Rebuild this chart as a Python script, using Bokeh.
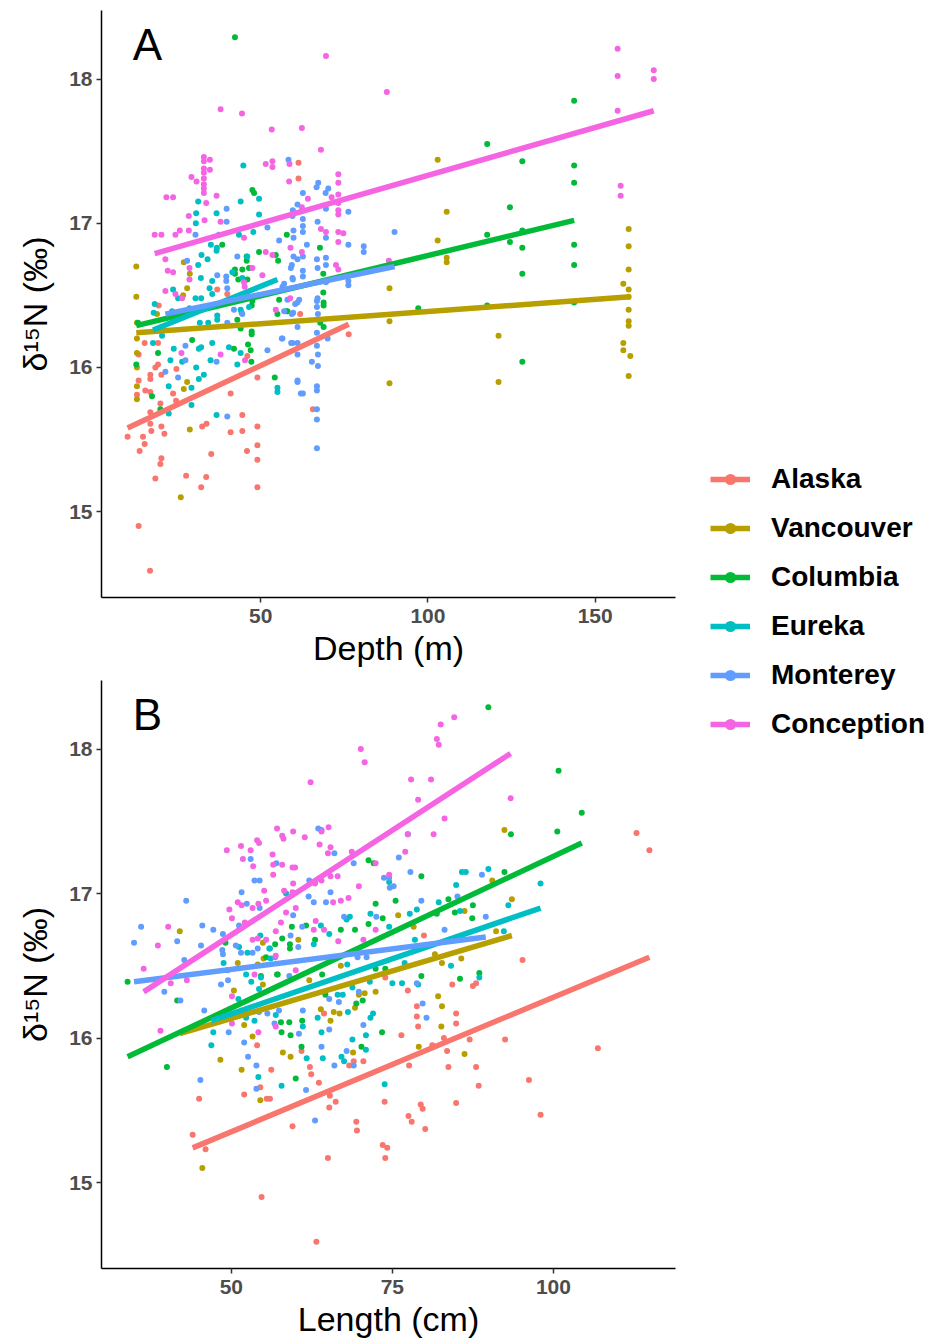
from bokeh.plotting import figure
from bokeh.layouts import row, column
from bokeh.models import (Range1d, FixedTicker, Legend, LegendItem, Label,
                          ColumnDataSource)
from bokeh.embed import file_html
from bokeh.resources import INLINE

REGIONS = ["Alaska", "Vancouver", "Columbia", "Eureka", "Monterey", "Conception"]
COLORS = ["#F8766D", "#B79F00", "#00BA38", "#00BFC4", "#619CFF", "#F564E3"]

Y_TICKS = [15, 16, 17, 18]
DEPTH_TICKS = [50, 100, 150]
LENGTH_TICKS = [50, 75, 100]

# ---- Panel A: capture depth (m) vs d15N, (depth, d15N) per fish ----
A_ALASKA = [(10.2, 15.52), (13.8, 15.42), (13.5, 14.90), (16.9, 14.59), (15.3, 16.17), (13.5, 16.09),
            (13.5, 15.91), (13.0, 15.81), (17.0, 15.95), (17.0, 15.92), (15.5, 15.84), (17.0, 15.83),
            (18.5, 16.00), (19.3, 16.02), (19.3, 16.17), (20.3, 15.95), (20.0, 15.75), (17.0, 15.69),
            (17.0, 15.61), (17.3, 15.56), (14.8, 15.52), (15.3, 15.47), (20.3, 15.59), (21.2, 15.54),
            (20.3, 15.37), (20.0, 15.33), (18.5, 15.23), (24.8, 15.99), (23.8, 15.82), (24.7, 15.77),
            (27.7, 15.25), (32.2, 15.17), (33.7, 15.24), (32.5, 15.59), (33.8, 15.61), (35.2, 15.40),
            (41.0, 15.82), (41.0, 15.55), (44.5, 15.67), (44.5, 15.56), (45.9, 15.42), (49.0, 15.93),
            (49.0, 15.59), (49.0, 15.46), (49.0, 15.36), (49.0, 15.17), (46.0, 16.08), (37.0, 16.54),
            (40.0, 16.51), (19.5, 16.43), (61.3, 17.42), (61.3, 17.31), (61.8, 16.37), (76.3, 16.23),
            (65.6, 15.71)]
A_VANCOUVER = [(12.8, 16.70), (12.8, 16.49), (13.0, 16.31), (13.0, 16.20), (13.0, 16.10), (13.0, 16.00),
               (13.0, 15.87), (13.0, 15.78), (28.0, 16.55), (26.8, 16.50), (27.0, 15.85), (28.0, 15.90),
               (28.8, 15.57), (26.1, 15.10), (19.0, 16.37), (27.0, 16.73), (28.8, 16.65), (102.9, 17.44),
               (105.6, 17.08), (102.9, 16.88), (105.6, 16.76), (105.6, 16.73), (88.5, 16.55), (88.5, 16.32),
               (88.5, 15.89), (121.1, 16.22), (121.1, 15.90), (160.0, 16.96), (160.0, 16.84), (160.0, 16.68),
               (158.4, 16.58), (160.0, 16.54), (160.0, 16.49), (160.0, 16.40), (160.0, 16.32), (160.0, 16.29),
               (158.4, 16.17), (158.4, 16.12), (160.5, 16.08), (160.0, 15.94)]
A_COLUMBIA = [(42.3, 18.29), (47.5, 17.23), (48.0, 17.21), (38.5, 16.85), (49.5, 16.80), (45.8, 16.77),
              (45.8, 16.74), (54.5, 16.78), (55.2, 16.74), (57.8, 16.92), (42.3, 16.68), (42.3, 16.65),
              (44.5, 16.68), (46.5, 16.69), (43.3, 16.61), (46.0, 16.61), (67.7, 16.83), (68.7, 16.65),
              (68.7, 16.52), (68.8, 16.45), (68.8, 16.43), (57.6, 16.39), (67.8, 16.31), (68.8, 16.28),
              (97.1, 16.41), (13.3, 16.31), (12.8, 16.02), (17.5, 15.80), (19.3, 16.10), (29.5, 16.19),
              (20.0, 15.71), (42.0, 16.13), (43.0, 16.33), (44.0, 16.27), (46.2, 16.16), (47.3, 16.25),
              (47.3, 16.23), (47.0, 16.12), (47.2, 16.04), (47.5, 16.46), (47.3, 16.43), (54.2, 15.93),
              (55.0, 16.37), (55.5, 16.47), (58.0, 16.39), (117.7, 17.55), (128.2, 17.43), (143.7, 17.85),
              (143.7, 17.40), (143.7, 17.28), (124.5, 17.11), (117.7, 16.92), (124.5, 16.87), (128.2, 16.95),
              (128.2, 16.83), (128.2, 16.65), (143.7, 16.85), (143.7, 16.71), (128.2, 16.04), (143.7, 16.45),
              (117.7, 16.43)]
A_EUREKA = [(44.8, 17.40), (31.3, 17.15), (30.7, 17.07), (30.6, 17.00), (44.0, 17.15), (49.5, 17.17),
            (49.5, 17.06), (36.8, 17.07), (47.8, 16.94), (43.5, 16.92), (35.1, 16.85), (36.9, 16.83),
            (36.8, 16.81), (32.3, 16.78), (34.1, 16.75), (31.3, 16.71), (32.1, 16.62), (35.5, 16.60),
            (34.7, 16.55), (23.8, 16.54), (25.3, 16.48), (32.2, 16.48), (46.0, 16.77), (44.5, 16.62),
            (41.5, 16.66), (18.3, 16.44), (18.0, 16.38), (30.5, 16.48), (35.5, 16.51), (28.7, 16.41),
            (32.5, 16.42), (37.0, 16.36), (37.0, 16.33), (31.8, 16.31), (34.3, 16.31), (23.5, 16.39),
            (20.5, 16.22), (17.8, 16.17), (24.0, 16.13), (31.5, 16.13), (32.2, 16.14), (23.0, 16.05),
            (26.5, 16.04), (30.7, 16.00), (33.0, 15.95), (31.5, 15.92), (22.5, 15.87), (29.3, 15.86),
            (35.0, 16.05), (35.5, 16.17), (40.5, 16.14), (43.0, 16.02), (44.0, 16.10), (44.0, 16.40),
            (44.3, 16.38), (46.5, 16.42), (29.3, 15.74), (22.5, 15.68), (36.8, 15.67), (55.0, 15.86),
            (55.0, 15.83)]
A_MONTEREY = [(39.8, 17.10), (39.8, 17.01), (30.5, 16.92), (37.5, 16.92), (52.0, 16.97), (58.3, 17.44),
              (59.8, 16.95), (59.8, 16.90), (59.5, 17.05), (55.5, 16.88), (43.0, 16.77), (37.0, 16.64),
              (39.7, 16.63), (39.7, 16.60), (40.0, 16.55), (59.8, 16.77), (61.0, 16.75), (59.0, 16.69),
              (59.5, 16.62), (56.5, 16.56), (28.0, 16.74), (67.2, 17.28), (66.7, 17.25), (70.2, 17.24),
              (69.4, 17.21), (62.6, 17.21), (61.0, 17.13), (59.6, 17.09), (69.5, 17.10), (62.6, 17.03),
              (62.6, 16.98), (62.6, 16.94), (67.0, 17.01), (69.5, 16.90), (76.2, 17.08), (90.0, 16.94),
              (80.8, 16.84), (80.8, 16.80), (76.2, 16.85), (63.8, 16.85), (59.3, 16.71), (62.6, 16.77),
              (66.8, 16.75), (69.5, 16.76), (69.5, 16.71), (62.6, 16.67), (62.6, 16.63), (67.0, 16.69),
              (59.6, 16.61), (76.2, 16.60), (76.2, 16.57), (67.0, 16.48), (69.5, 16.59), (57.0, 16.58),
              (60.3, 16.44), (61.0, 16.45), (59.3, 16.37), (66.8, 16.46), (66.8, 16.42), (67.1, 16.37),
              (61.0, 16.28), (66.8, 16.24), (56.3, 16.20), (59.1, 16.17), (61.0, 16.17), (70.0, 16.20),
              (66.8, 16.15), (67.1, 16.09), (61.0, 16.09), (65.3, 16.04), (67.1, 16.01), (61.0, 15.90),
              (62.6, 15.82), (66.8, 15.87), (66.8, 15.84), (66.8, 15.71), (66.8, 15.64), (66.8, 15.44),
              (21.5, 15.97), (25.3, 15.93), (27.5, 16.15), (27.5, 16.05), (36.8, 16.04), (40.0, 15.66),
              (52.0, 16.12), (56.5, 16.20), (59.5, 16.17), (61.0, 15.91), (62.0, 15.82), (40.0, 16.31),
              (42.0, 16.40), (44.5, 16.37), (58.0, 16.47), (57.0, 16.39), (59.7, 16.38), (61.5, 16.47)]
A_CONCEPTION = [(156.7, 18.21), (156.7, 18.02), (156.7, 17.78), (167.5, 18.06), (167.5, 18.00), (157.6, 17.26),
                (157.6, 17.19), (69.5, 18.16), (87.7, 17.91), (62.3, 17.66), (68.0, 17.51), (58.6, 17.41),
                (58.5, 17.29), (73.2, 17.34), (73.2, 17.28), (73.2, 17.20), (71.2, 17.18), (64.1, 17.17),
                (62.3, 17.11), (73.2, 17.14), (73.2, 17.09), (73.2, 17.06), (69.5, 16.94), (68.0, 16.96),
                (73.2, 16.94), (74.7, 16.93), (73.2, 16.87), (58.9, 16.83), (62.3, 16.80), (72.5, 16.71),
                (73.2, 16.68), (88.3, 16.74), (58.8, 16.48), (38.0, 17.79), (44.4, 17.76), (53.3, 17.65),
                (33.0, 17.46), (33.0, 17.43), (33.0, 17.38), (33.0, 17.35), (33.0, 17.31), (33.0, 17.27),
                (33.0, 17.24), (33.0, 17.21), (34.8, 17.44), (34.8, 17.37), (29.3, 17.32), (30.8, 17.29),
                (51.5, 17.41), (53.5, 17.43), (53.5, 17.39), (21.8, 17.18), (23.8, 17.18), (36.8, 17.19),
                (33.7, 17.14), (28.5, 17.05), (33.2, 17.02), (38.0, 17.01), (18.3, 16.92), (20.3, 16.92),
                (24.5, 16.92), (25.8, 16.95), (28.5, 16.95), (45.0, 16.90), (51.5, 16.80), (53.5, 16.78),
                (21.5, 16.75), (22.2, 16.67), (23.8, 16.66), (28.7, 16.69), (28.7, 16.61), (47.5, 16.69),
                (50.5, 16.64), (21.5, 16.53), (24.5, 16.51), (26.5, 16.48), (45.2, 16.56), (26.3, 16.10),
                (38.0, 16.09), (45.3, 16.05), (54.5, 16.40), (45.0, 16.59)]

# ---- Panel B: fork length (cm) vs d15N, (length, d15N) per fish ----
B_ALASKA = [(45.0, 15.58), (44.0, 15.33), (46.0, 15.23), (52.0, 15.61), (54.0, 15.95), (54.5, 15.66),
            (55.5, 15.58), (56.0, 15.58), (56.2, 15.78), (54.7, 14.90), (79.9, 16.71), (60.9, 15.91),
            (62.2, 15.80), (62.4, 15.75), (63.6, 15.69), (59.5, 15.39), (65.3, 15.60), (66.2, 15.56),
            (65.2, 15.52), (65.0, 15.17), (63.2, 14.59), (68.3, 15.81), (69.0, 15.84), (70.5, 15.84),
            (69.4, 15.42), (69.5, 15.36), (73.8, 15.56), (73.5, 15.26), (74.2, 15.24), (73.9, 15.17),
            (76.4, 16.02), (77.5, 15.46), (78.0, 15.42), (77.6, 15.81), (79.4, 15.54), (79.7, 15.51),
            (80.1, 15.37), (78.8, 16.22), (78.8, 16.15), (79.0, 16.08), (77.4, 16.33), (81.2, 15.95),
            (83.5, 15.91), (83.7, 15.80), (84.9, 15.55), (84.9, 16.17), (84.9, 16.10), (84.3, 16.37),
            (83.0, 16.00), (73.9, 16.42), (64.4, 16.17), (112.9, 17.42), (114.9, 17.30), (95.2, 16.54),
            (87.5, 16.36), (88.0, 16.38), (87.0, 15.99), (92.5, 15.99), (88.0, 15.80), (88.4, 15.67),
            (96.2, 15.71), (98.0, 15.47), (106.9, 15.93)]
B_VANCOUVER = [(42.0, 16.74), (51.0, 16.52), (54.9, 16.66), (55.0, 16.55), (54.1, 16.51), (50.4, 16.33),
               (52.0, 16.09), (53.3, 16.01), (48.3, 15.85), (51.6, 15.78), (54.5, 15.57), (45.5, 15.10),
               (54.9, 16.37), (60.4, 16.68), (75.9, 16.85), (78.3, 16.77), (82.7, 16.52), (81.6, 16.58),
               (58.0, 15.90), (59.2, 15.87), (65.4, 16.12), (65.9, 16.18), (66.8, 16.17), (68.9, 15.90),
               (69.8, 16.30), (70.7, 16.31), (72.4, 16.32), (69.2, 16.21), (79.1, 15.94), (82.1, 16.29),
               (82.7, 16.22), (82.6, 16.08), (62.1, 16.40), (63.9, 16.20), (67.0, 16.50), (92.4, 17.44),
               (93.55, 16.96), (86.2, 16.88), (90.5, 17.09), (91.1, 16.74), (85.7, 16.55), (86.2, 15.89)]
B_COLUMBIA = [(49.1, 16.66), (56.8, 16.65), (55.4, 16.56), (54.6, 16.43), (57.1, 16.44), (33.9, 16.39),
              (40.0, 15.80), (41.6, 16.26), (71.3, 17.23), (72.1, 17.21), (79.5, 17.12), (72.4, 16.93),
              (75.5, 16.95), (73.5, 16.83), (71.3, 16.79), (69.2, 16.75), (67.0, 16.75), (61.6, 16.78),
              (59.4, 16.77), (57.9, 16.69), (59.1, 16.65), (59.1, 16.62), (63.0, 16.68), (57.2, 16.44),
              (72.4, 16.48), (73.9, 16.48), (79.5, 16.43), (83.7, 16.96), (84.7, 16.87), (81.9, 16.86),
              (57.7, 16.11), (59.0, 16.11), (61.0, 16.12), (57.8, 16.04), (59.2, 16.02), (60.0, 15.72),
              (60.9, 15.94), (69.4, 16.24), (70.4, 16.26), (70.2, 15.94), (73.4, 16.04), (64.6, 16.30),
              (64.1, 16.44), (89.9, 18.29), (100.8, 17.85), (104.4, 17.56), (100.6, 17.43), (93.4, 17.41),
              (92.4, 17.15), (87.5, 16.92), (87.4, 16.83), (88.5, 16.45), (85.5, 16.41)]
B_EUREKA = [(48.8, 16.52), (51.2, 16.63), (52.5, 16.59), (54.5, 16.71), (55.9, 16.62), (56.1, 16.55),
            (52.3, 16.44), (54.6, 16.42), (46.9, 15.95), (47.2, 16.04), (53.1, 16.39), (51.1, 16.27),
            (52.3, 16.14), (53.6, 16.12), (54.2, 15.73), (54.3, 16.34), (56.9, 16.16), (58.5, 17.00),
            (63.9, 16.78), (65.2, 16.72), (67.9, 16.82), (68.4, 16.84), (71.6, 16.86), (74.5, 17.08),
            (77.4, 17.41), (77.7, 16.86), (78.8, 16.89), (78.5, 16.68), (74.5, 16.77), (82.2, 16.94),
            (84.9, 17.06), (84.1, 16.50), (56.0, 16.62), (62.8, 16.65), (76.9, 16.52), (61.1, 16.08),
            (61.7, 15.86), (64.2, 15.86), (64.0, 16.04), (57.8, 15.67), (63.4, 16.14), (68.1, 16.18),
            (68.8, 15.99), (70.9, 16.02), (70.9, 15.92), (71.6, 16.14), (72.0, 16.17), (67.1, 15.87),
            (67.5, 15.84), (73.8, 15.68), (75.0, 16.38), (76.5, 16.38), (79.0, 16.37), (66.5, 16.30),
            (67.3, 16.30), (71.5, 16.39), (68.0, 16.51), (68.8, 16.35), (85.8, 17.15), (86.4, 17.15),
            (89.9, 17.17), (98.0, 17.07), (93.0, 16.92), (85.5, 16.88), (92.3, 16.74), (88.5, 16.42)]
B_MONTEREY = [(43.0, 16.95), (36.0, 16.77), (34.9, 16.66), (41.6, 16.67), (45.5, 16.78), (47.2, 16.75),
              (48.7, 16.72), (45.3, 16.64), (51.6, 17.01), (52.4, 16.93), (53.0, 17.24), (53.6, 17.09),
              (54.4, 17.09), (54.4, 16.90), (57.0, 17.21), (51.2, 16.78), (48.7, 16.58), (48.6, 16.61),
              (50.7, 16.64), (51.5, 16.59), (53.3, 16.59), (54.1, 16.62), (56.8, 16.56), (42.7, 16.54),
              (49.4, 16.47), (39.6, 16.32), (42.1, 16.26), (45.8, 16.19), (48.4, 16.37), (49.5, 16.40),
              (49.6, 16.04), (52.0, 15.97), (52.6, 15.87), (53.9, 15.81), (53.9, 15.65), (45.2, 15.71),
              (54.3, 16.18), (55.6, 16.17), (56.7, 16.10), (63.5, 17.45), (64.0, 17.44), (66.0, 17.28),
              (69.0, 17.21), (76.0, 17.25), (77.8, 17.15), (73.7, 17.11), (74.5, 17.11), (74.6, 17.04),
              (75.2, 17.05), (62.1, 17.09), (62.8, 16.94), (62.0, 16.98), (64.7, 16.94), (65.4, 17.01),
              (59.6, 16.85), (61.0, 16.77), (67.5, 16.84), (72.5, 16.84), (79.5, 16.95), (83.1, 16.75),
              (85.1, 16.98), (59.2, 16.71), (60.4, 16.63), (69.6, 16.56), (71.0, 16.56), (61.1, 16.19),
              (60.5, 16.03), (64.0, 15.94), (65.2, 16.06), (66.0, 15.81), (61.6, 15.64), (63.0, 15.43),
              (67.9, 15.91), (69.0, 15.81), (70.5, 16.09), (69.8, 16.32), (65.2, 16.27), (66.7, 16.25),
              (79.7, 16.24), (80.3, 16.14), (78.8, 16.38), (57.4, 16.19), (59.0, 16.43), (88.9, 17.13),
              (89.5, 16.84)]
B_CONCEPTION = [(49.3, 17.30), (51.5, 17.33), (51.8, 17.24), (53.0, 17.30), (53.4, 17.19), (54.0, 17.37),
                (54.3, 17.35), (56.4, 17.27), (56.5, 17.20), (56.5, 17.13), (57.1, 17.45), (55.1, 17.02),
                (51.0, 16.94), (51.6, 16.92), (49.7, 16.89), (50.1, 16.83), (53.3, 16.90), (54.2, 16.93),
                (55.4, 16.95), (40.2, 16.77), (38.6, 16.64), (36.4, 16.48), (52.1, 16.80), (53.3, 16.68),
                (54.1, 16.69), (55.4, 16.68), (56.9, 16.74), (56.9, 16.57), (40.6, 16.38), (43.1, 16.40),
                (39.0, 16.05), (50.1, 16.29), (50.1, 16.10), (54.2, 16.04), (53.6, 16.44), (56.9, 16.08),
                (70.1, 18.00), (70.7, 17.91), (62.3, 17.77), (84.6, 18.22), (82.5, 18.17), (81.9, 18.07),
                (82.2, 18.03), (77.9, 17.79), (81.0, 17.79), (79.0, 17.65), (83.1, 17.52), (81.4, 17.41),
                (77.4, 17.41), (77.0, 17.29), (57.9, 17.40), (58.1, 17.38), (59.6, 17.43), (61.4, 17.39),
                (64.0, 17.43), (65.1, 17.46), (63.7, 17.34), (65.4, 17.32), (65.0, 17.28), (68.7, 17.29),
                (57.9, 17.20), (59.5, 17.18), (59.9, 17.18), (59.6, 17.07), (64.0, 17.09), (63.0, 17.07),
                (65.4, 17.12), (66.5, 17.12), (72.4, 17.21), (74.5, 17.13), (69.8, 17.05), (58.2, 17.02),
                (59.5, 17.01), (65.8, 16.94), (67.0, 16.95), (68.2, 16.97), (60.0, 16.90), (58.5, 16.87),
                (57.7, 16.80), (63.1, 16.81), (64.4, 16.75), (62.8, 16.75), (72.4, 16.75), (70.5, 16.68),
                (66.6, 16.67), (60.0, 16.47), (93.35, 17.66)]

# Linear fits per region: (x_start, y_start, x_end, y_end)
FIT_A = [(10.2, 15.58, 76.3, 16.30), (12.8, 16.24, 160.5, 16.49), (12.8, 16.29, 143.7, 17.02),
         (17.8, 16.26, 55.0, 16.61), (21.5, 16.37, 90.0, 16.70), (18.3, 16.79, 167.5, 17.78)]
FIT_B = [(44.0, 15.24, 114.9, 16.56), (42.0, 16.03, 93.55, 16.71), (33.9, 15.87, 104.4, 17.35),
         (46.9, 16.12, 98.0, 16.90), (34.9, 16.39, 89.5, 16.70), (36.4, 16.32, 93.35, 17.97)]

POINTS_A = [A_ALASKA, A_VANCOUVER, A_COLUMBIA, A_EUREKA, A_MONTEREY, A_CONCEPTION]
POINTS_B = [B_ALASKA, B_VANCOUVER, B_COLUMBIA, B_EUREKA, B_MONTEREY, B_CONCEPTION]

FONT = "Liberation Sans"
Y_LABEL = "δ¹⁵N (‰)"
LINE_W = 5.5
Y_RANGE = (14.405, 18.475)


def make_panel(points, fits, x_range, xticks, xlabel, tag, border_left, border_right,
               border_bottom, height):
    p = figure(width=680, height=height, x_range=Range1d(*x_range), y_range=Range1d(*Y_RANGE),
               output_backend="svg", toolbar_location=None,
               min_border_left=border_left, min_border_right=border_right,
               min_border_top=10, min_border_bottom=border_bottom)
    p.outline_line_color = None
    p.xgrid.visible = False
    p.ygrid.visible = False
    p.background_fill_color = "white"
    p.border_fill_color = "white"

    for pts, color in zip(points, COLORS):
        src = ColumnDataSource(dict(x=[q[0] for q in pts], y=[q[1] for q in pts]))
        p.scatter("x", "y", source=src, size=6, fill_color=color, line_color=None)

    fit_src = ColumnDataSource(dict(
        x0=[f[0] for f in fits], y0=[f[1] for f in fits],
        x1=[f[2] for f in fits], y1=[f[3] for f in fits], color=COLORS))
    p.segment("x0", "y0", "x1", "y1", source=fit_src, line_color="color", line_width=LINE_W)

    p.xaxis.ticker = FixedTicker(ticks=xticks)
    p.yaxis.ticker = FixedTicker(ticks=Y_TICKS)
    p.xaxis.axis_label = xlabel
    p.yaxis.axis_label = Y_LABEL
    for ax in (p.xaxis[0], p.yaxis[0]):
        ax.axis_line_color = "black"
        ax.axis_line_width = 1.5
        ax.major_tick_line_color = "#333333"
        ax.major_tick_line_width = 1.5
        ax.major_tick_out = 5
        ax.major_tick_in = 0
        ax.minor_tick_line_color = None
        ax.major_label_text_font = FONT
        ax.major_label_text_font_style = "bold"
        ax.major_label_text_font_size = "21px"
        ax.major_label_text_color = "#4D4D4D"
        ax.axis_label_text_font = FONT
        ax.axis_label_text_font_style = "normal"
        ax.axis_label_text_font_size = "34px"
        ax.axis_label_text_color = "black"
    p.xaxis.major_label_standoff = 6
    p.xaxis.axis_label_standoff = 3
    p.yaxis.major_label_standoff = 4
    p.yaxis.axis_label_standoff = 12

    # panel tag in the upper-left corner of the plotting area
    xs, xe = x_range
    ys, ye = Y_RANGE
    p.add_layout(Label(x=xs + 0.08 * (xe - xs), y=ye - 0.058 * (ye - ys), text=tag,
                       text_font=FONT, text_font_size="44px", text_color="black",
                       text_align="center", text_baseline="middle"))
    return p


pA = make_panel(POINTS_A, FIT_A, (2.4, 174.0), DEPTH_TICKS, "Depth (m)", "A",
                border_left=100, border_right=5, border_bottom=73, height=670)
pB = make_panel(POINTS_B, FIT_B, (29.85, 118.95), LENGTH_TICKS, "Length (cm)", "B",
                border_left=101, border_right=3, border_bottom=74, height=672)

# shared legend drawn in its own narrow canvas to the right of both panels;
# its key renderers hold a single NaN point so only the legend swatches show
pL = figure(width=252, height=1342, x_axis_type=None, y_axis_type=None,
            x_range=Range1d(0, 1), y_range=Range1d(0, 1),
            toolbar_location=None, output_backend="svg", min_border=0)
pL.outline_line_color = None
items = []
for name, color in zip(REGIONS, COLORS):
    src = ColumnDataSource(dict(x=[float("nan")], y=[float("nan")]))
    lr = pL.line("x", "y", source=src, line_color=color, line_width=LINE_W)
    sr = pL.scatter("x", "y", source=src, size=10, fill_color=color, line_color=None)
    items.append(LegendItem(label=name, renderers=[lr, sr]))

legend = Legend(items=items, location=(30, 602), orientation="vertical",
                glyph_width=40, glyph_height=28, label_height=28, label_standoff=21,
                spacing=17, padding=0, margin=0, border_line_color=None,
                background_fill_alpha=0, label_text_font=FONT,
                label_text_font_style="bold", label_text_font_size="28px",
                label_text_color="black")
pL.add_layout(legend)

layout = row(column(pA, pB), pL)
open("out.html", "w").write(file_html(layout, INLINE))
